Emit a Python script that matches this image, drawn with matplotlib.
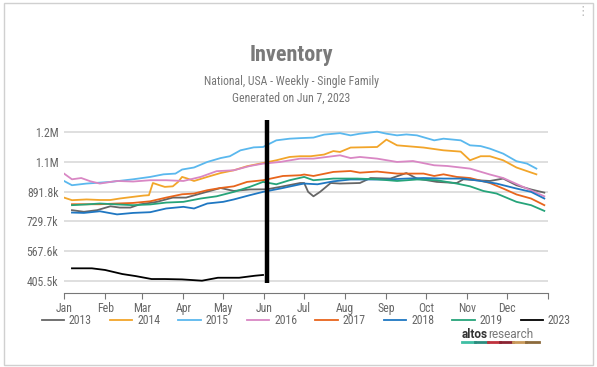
import matplotlib

matplotlib.use("Agg")
import matplotlib.pyplot as plt
from matplotlib.patches import Rectangle
from matplotlib.ticker import FixedLocator, FuncFormatter

plt.rcParams["font.family"] = ["Roboto Condensed", "Liberation Sans Narrow", "Roboto",
                               "DejaVu Sans"]

# inventory, thousands of homes, read by day of year
days_2013 = [6, 15, 25, 35, 42, 50, 57, 70, 82, 92, 103, 118, 128, 140, 153, 163, 178,
             181, 184, 188, 193, 201, 208, 223, 231, 246, 258, 266, 281, 296, 301, 311,
             321, 331, 341, 352, 362]
inv_2013 = [791, 782, 791, 812, 805, 805, 822, 836, 859, 859, 881, 911, 895, 903, 904,
            917, 938, 938, 890, 866, 890, 938, 935, 938, 965, 962, 992, 962, 944, 938,
            958, 953, 949, 962, 926, 903, 886]

days_2014 = [0, 6, 17, 27, 35, 42, 52, 60, 64, 67, 72, 76, 82, 86, 89, 93, 98, 108, 118,
             128, 138, 150, 160, 170, 178, 186, 196, 203, 208, 216, 236, 243, 251, 271,
             286, 299, 306, 314, 321, 331, 341, 356]
inv_2014 = [859, 845, 849, 846, 846, 854, 863, 870, 872, 938, 926, 917, 920, 944, 971,
            962, 949, 971, 992, 1007, 1029, 1046, 1061, 1079, 1083, 1083, 1092, 1111,
            1106, 1130, 1133, 1173, 1142, 1130, 1115, 1108, 1061, 1083, 1083, 1061,
            1022, 985]

days_2015 = [0, 6, 17, 35, 52, 65, 75, 84, 89, 98, 108, 118, 125, 133, 143, 150, 160,
             170, 178, 188, 196, 208, 216, 223, 236, 243, 251, 258, 266, 279, 286, 299,
             306, 314, 321, 331, 341, 349, 356]
inv_2015 = [949, 926, 935, 944, 958, 971, 985, 989, 1011, 1022, 1052, 1073, 1083, 1115,
            1131, 1133, 1169, 1178, 1181, 1184, 1200, 1208, 1196, 1205, 1216, 1205, 1196,
            1201, 1196, 1169, 1178, 1169, 1142, 1138, 1124, 1097, 1056, 1043, 1016]

days_2016 = [0, 6, 13, 20, 27, 40, 52, 65, 77, 90, 103, 115, 128, 140, 150, 163, 178,
             188, 208, 216, 223, 236, 251, 263, 279, 289, 306, 321, 331, 346, 362]
inv_2016 = [989, 958, 965, 947, 935, 949, 946, 953, 953, 949, 971, 1002, 1007, 1030, 1043,
            1052, 1070, 1070, 1088, 1073, 1079, 1070, 1052, 1057, 1034, 1030, 1016, 984,
            965, 917, 866]

days_2017 = [6, 17, 27, 40, 52, 65, 77, 89, 98, 108, 118, 128, 138, 150, 165, 178, 181,
             188, 203, 216, 223, 236, 251, 271, 279, 286, 296, 306, 321, 331, 341, 352,
             362]
inv_2017 = [823, 823, 823, 827, 830, 839, 859, 877, 881, 899, 911, 920, 944, 953, 976, 980,
            984, 976, 998, 1003, 994, 1000, 989, 989, 976, 985, 971, 965, 938, 908, 876,
            854, 818]

days_2018 = [6, 15, 27, 40, 52, 65, 77, 90, 98, 108, 120, 128, 140, 150, 163, 178, 181,
             191, 203, 216, 231, 243, 258, 271, 286, 301, 314, 326, 341, 352, 362]
inv_2018 = [778, 776, 785, 768, 776, 780, 800, 809, 800, 827, 836, 849, 872, 890, 908, 931,
            935, 931, 947, 957, 957, 957, 962, 965, 962, 962, 949, 935, 908, 890, 854]

days_2019 = [6, 17, 27, 40, 52, 65, 77, 90, 103, 115, 128, 140, 150, 160, 170, 181, 188,
             203, 221, 236, 251, 266, 281, 296, 306, 316, 326, 341, 352, 362]
inv_2019 = [818, 822, 827, 822, 818, 822, 832, 836, 854, 866, 890, 917, 944, 931, 953, 971,
            953, 962, 962, 958, 949, 957, 953, 935, 920, 895, 881, 836, 818, 787]

days_2023 = [6, 21, 31, 44, 54, 66, 76, 89, 104, 116, 132, 144, 150]
inv_2023 = [476, 476, 467, 445, 434, 418, 418, 416, 409, 425, 425, 436, 440]

years = ["2013", "2014", "2015", "2016", "2017", "2018", "2019", "2023"]
series_days = [days_2013, days_2014, days_2015, days_2016, days_2017, days_2018,
               days_2019, days_2023]
series_inv = [inv_2013, inv_2014, inv_2015, inv_2016, inv_2017, inv_2018, inv_2019,
              inv_2023]
colors = ["#666666", "#f2a52a", "#5ab8ee", "#d987c4", "#e8651c", "#1f77c2", "#26a47a",
          "#000000"]

today_day = 153
today_span = [396, 1277]

y_ticks = [405.5, 567.6, 729.7, 891.8, 1053.9, 1216.0]
month_starts = [0, 31, 59, 90, 120, 151, 181, 212, 243, 273, 304, 334, 365]
month_labels = ["Jan", "Feb", "Mar", "Apr", "May", "Jun", "Jul", "Aug", "Sep", "Oct",
                "Nov", "Dec", ""]


def fmt_inventory(v, _pos):
    if v >= 1000:
        return f"{v / 1000:.1f}M"
    return f"{v:.1f}k"


fig = plt.figure(figsize=(5.97, 3.67), dpi=100)
fig.patches.append(Rectangle((4 / 597, 2 / 367), 589 / 597, 362 / 367,
                             transform=fig.transFigure, fill=False,
                             edgecolor="#d0d0d0", linewidth=1))

ax = fig.add_axes([64 / 597, 1 - 292.7 / 367, 484.3 / 597, 174.7 / 367])
for year, d, v, c in zip(years, series_days, series_inv, colors):
    ax.plot(d, v, color=c, linewidth=1.3, label=year, solid_joinstyle="round")
ax.plot([today_day, today_day], today_span, color="black", linewidth=3.2,
        solid_capstyle="butt")

ax.set_xlim(0, 365)
ax.set_ylim(344, 1290)
ax.yaxis.set_major_locator(FixedLocator(y_ticks))
ax.yaxis.set_major_formatter(FuncFormatter(fmt_inventory))
ax.set_xticks(month_starts)
ax.set_xticklabels(month_labels)
ax.grid(axis="y", color="#d9d9d9", linewidth=1.2)
ax.set_axisbelow(True)
for side in ["top", "right", "left"]:
    ax.spines[side].set_visible(False)
ax.spines["bottom"].set_color("#777777")
ax.tick_params(axis="y", length=0, pad=4, labelsize=8.5, labelcolor="#666666")
ax.tick_params(axis="x", length=4, color="#777777", pad=3, labelsize=8.5,
               labelcolor="#666666", direction="out")

fig.text(0.488, 0.85, "Inventory", ha="center", va="center", fontsize=16,
         color="#7a7a7a", fontweight="bold")
fig.text(0.488, 0.777, "National, USA - Weekly - Single Family", ha="center",
         va="center", fontsize=8.5, color="#777777")
fig.text(0.488, 0.733, "Generated on Jun 7, 2023", ha="center", va="center",
         fontsize=8.5, color="#777777")

handles, labels = ax.get_legend_handles_labels()
fig.legend(handles[:8], labels[:8], loc="center", bbox_to_anchor=(0.513, 1 - 321 / 367),
           ncol=8, frameon=False, fontsize=8.5, handlelength=1.9, handletextpad=0.4,
           columnspacing=1.55, labelcolor="#666666")

# altos research logo
fig.text(462 / 597, 1 - 334 / 367, "altos", ha="left", va="center", fontsize=8.5,
         fontweight="bold", color="#333333", family="Roboto")
fig.text(488 / 597, 1 - 334 / 367, "research", ha="left", va="center", fontsize=8.5,
         color="#777777", family="Roboto")
logo_colors = ["#3fbfa4", "#2b8c7e", "#c0313c", "#8a2331", "#c9995a", "#8c6a3c"]
for i, lc in enumerate(logo_colors):
    x0 = (462 + i * 12.8) / 597
    fig.add_artist(plt.Line2D([x0, x0 + 12.8 / 597], [1 - 342 / 367, 1 - 342 / 367],
                              color=lc, linewidth=2, transform=fig.transFigure))

fig.text(583 / 597, 1 - 11 / 367, "\u22ee", ha="center", va="center", fontsize=9,
         color="#bbbbbb", family="DejaVu Sans")

fig.savefig("out.png", dpi=100)
